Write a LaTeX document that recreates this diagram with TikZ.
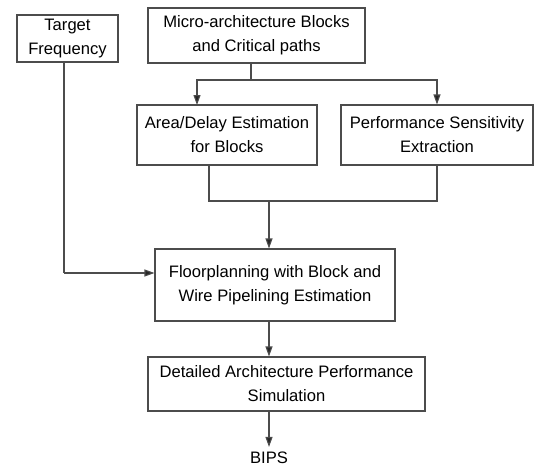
\documentclass[tikz,border=0pt]{standalone}
\usepackage{fontspec}
\setmainfont{Liberation Sans}
\usetikzlibrary{arrows.meta}
\begin{document}
\begin{tikzpicture}[x=1pt,y=-1pt,
  box/.style={draw=black!70, line width=1.1pt, inner sep=0pt, align=center,
    font=\fontsize{16.6}{24}\selectfont, text=black},
  conn/.style={draw=black!70, line width=1.1pt},
  arr/.style={conn, -{Triangle[length=10pt,width=7pt,fill=black!85]}}]
\useasboundingbox (0,0) rectangle (541,466);
\node[box, minimum width=101pt, minimum height=47pt] (tf) at (67.5,38.5) {Target\\Frequency};
\node[box, minimum width=217pt, minimum height=55pt] (mab) at (256.5,35.5) {Micro-architecture Blocks\\and Critical paths};
\node[box, minimum width=180pt, minimum height=60pt] (ade) at (227,135) {Area/Delay Estimation\\for Blocks};
\node[box, minimum width=192pt, minimum height=60pt] (pse) at (437,135) {Performance Sensitivity\\Extraction};
\node[box, minimum width=240pt, minimum height=72pt] (fp) at (275,285) {Floorplanning with Block and\\Wire Pipelining Estimation};
\node[box, minimum width=277pt, minimum height=54pt] (dap) at (286.5,384) {Detailed Architecture Performance\\Simulation};
\node[font=\fontsize{16.6}{24}\selectfont, inner sep=5pt] (bips) at (269,458) {BIPS};
\coordinate (split) at (251,80);
\coordinate (adein) at (197,105);
\coordinate (adeout) at (209,165);
\coordinate (merge) at (269,201);
\coordinate (tfx) at (64,273);
\draw[conn] (mab.south -| split) -- (split);
\draw[arr] (split) -| (adein);
\draw[arr] (split) -| (pse.north);
\draw[conn] (adeout) |- (merge);
\draw[conn] (pse.south) |- (merge);
\draw[arr] (merge) -- (merge |- fp.north);
\draw[conn] (tf.south -| tfx) -- (tfx);
\draw[arr] (tfx) -- (tfx -| fp.west);
\draw[arr] (fp.south -| merge) -- (dap.north -| merge);
\draw[arr] (dap.south -| merge) -- (bips.north);
\end{tikzpicture}
\end{document}
